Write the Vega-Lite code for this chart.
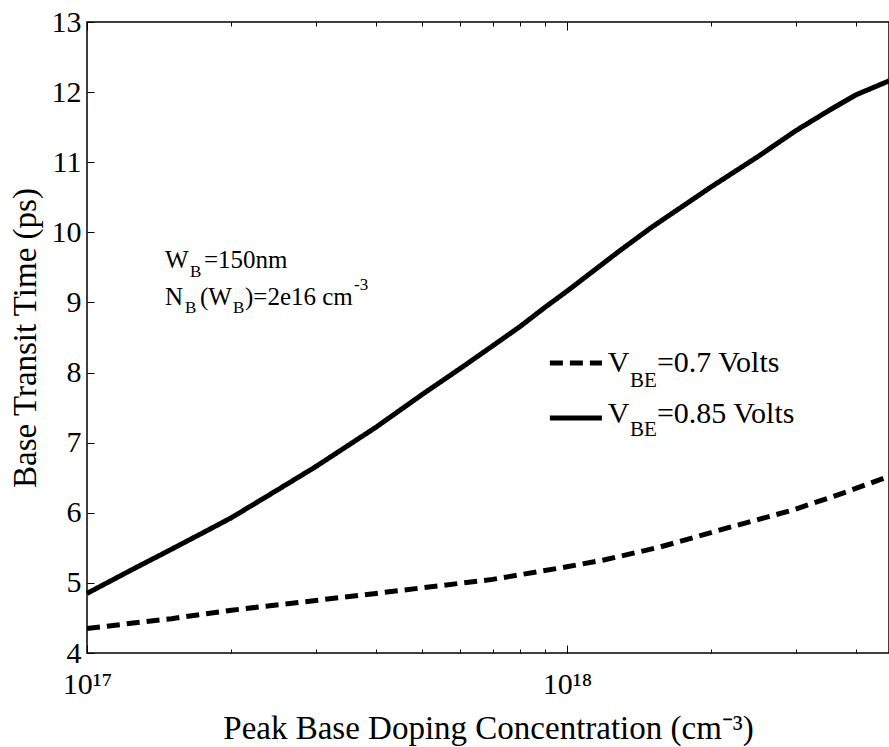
{
  "$schema": "https://vega.github.io/schema/vega-lite/v6.json",
  "width": 802,
  "height": 631,
  "autosize": {"type": "none"},
  "padding": {"left": 87, "top": 22, "right": 0, "bottom": 94},
  "background": "white",
  "config": {
    "view": {"stroke": "black", "strokeWidth": 1.5},
    "font": "Liberation Serif",
    "axis": {
      "domain": false,
      "grid": false,
      "tickColor": "black",
      "tickWidth": 1,
      "labelColor": "black",
      "titleColor": "black",
      "labelFont": "Liberation Serif",
      "titleFont": "Liberation Serif",
      "titleFontWeight": "normal",
      "labelFlush": false
    }
  },
  "datasets": {
    "curves": [
      {"conc": 1e17, "time": 4.85, "series": "0.85"},
      {"conc": 1.25e17, "time": 5.2, "series": "0.85"},
      {"conc": 1.5e17, "time": 5.48, "series": "0.85"},
      {"conc": 1.75e17, "time": 5.72, "series": "0.85"},
      {"conc": 2e17, "time": 5.93, "series": "0.85"},
      {"conc": 2.5e17, "time": 6.33, "series": "0.85"},
      {"conc": 3e17, "time": 6.66, "series": "0.85"},
      {"conc": 4e17, "time": 7.22, "series": "0.85"},
      {"conc": 5e17, "time": 7.69, "series": "0.85"},
      {"conc": 6e17, "time": 8.06, "series": "0.85"},
      {"conc": 7e17, "time": 8.38, "series": "0.85"},
      {"conc": 8e17, "time": 8.66, "series": "0.85"},
      {"conc": 9e17, "time": 8.93, "series": "0.85"},
      {"conc": 1e18, "time": 9.16, "series": "0.85"},
      {"conc": 1.29e18, "time": 9.74, "series": "0.85"},
      {"conc": 1.5e18, "time": 10.07, "series": "0.85"},
      {"conc": 2e18, "time": 10.65, "series": "0.85"},
      {"conc": 2.5e18, "time": 11.08, "series": "0.85"},
      {"conc": 3e18, "time": 11.45, "series": "0.85"},
      {"conc": 3.5e18, "time": 11.73, "series": "0.85"},
      {"conc": 4e18, "time": 11.96, "series": "0.85"},
      {"conc": 4.69e18, "time": 12.16, "series": "0.85"},
      {"conc": 1e17, "time": 4.35, "series": "0.7"},
      {"conc": 1.5e17, "time": 4.49, "series": "0.7"},
      {"conc": 2e17, "time": 4.61, "series": "0.7"},
      {"conc": 3e17, "time": 4.75, "series": "0.7"},
      {"conc": 4e17, "time": 4.85, "series": "0.7"},
      {"conc": 5e17, "time": 4.93, "series": "0.7"},
      {"conc": 7e17, "time": 5.05, "series": "0.7"},
      {"conc": 1e18, "time": 5.23, "series": "0.7"},
      {"conc": 1.2e18, "time": 5.33, "series": "0.7"},
      {"conc": 1.56e18, "time": 5.51, "series": "0.7"},
      {"conc": 2.15e18, "time": 5.78, "series": "0.7"},
      {"conc": 2.96e18, "time": 6.04, "series": "0.7"},
      {"conc": 3.76e18, "time": 6.28, "series": "0.7"},
      {"conc": 4.69e18, "time": 6.52, "series": "0.7"}
    ],
    "legendLines": [
      {"series": "0.7", "conc": 9.216e17, "time": 8.136},
      {"series": "0.7", "conc": 1.183e18, "time": 8.136},
      {"series": "0.85", "conc": 9.216e17, "time": 7.352},
      {"series": "0.85", "conc": 1.183e18, "time": 7.352}
    ],
    "notesMain": [
      {"conc": 1.454e17, "time": 9.487, "text": "W"},
      {"conc": 1.753e17, "time": 9.487, "text": "=150nm"},
      {"conc": 1.454e17, "time": 8.964, "text": "N"},
      {"conc": 1.72e17, "time": 8.964, "text": "(W"},
      {"conc": 2.134e17, "time": 8.964, "text": ")=2e16 cm"}
    ],
    "notesSub": [
      {"conc": 1.639e17, "time": 9.363, "text": "B"},
      {"conc": 1.601e17, "time": 8.85, "text": "B"},
      {"conc": 2.014e17, "time": 8.85, "text": "B"}
    ],
    "notesSup": [
      {"conc": 3.6e17, "time": 9.178, "text": "-3"}
    ],
    "legendMain": [
      {"conc": 1.217e18, "time": 8.008, "text": "V"},
      {"conc": 1.54e18, "time": 8.008, "text": "=0.7 Volts"},
      {"conc": 1.217e18, "time": 7.281, "text": "V"},
      {"conc": 1.54e18, "time": 7.281, "text": "=0.85 Volts"}
    ],
    "legendSub": [
      {"conc": 1.353e18, "time": 7.794, "text": "BE"},
      {"conc": 1.353e18, "time": 7.095, "text": "BE"}
    ]
  },
  "resolve": {"axis": {"x": "independent", "y": "independent"}},
  "layer": [
    {
      "data": {"name": "curves"},
      "mark": {"type": "line", "color": "black", "strokeWidth": 5, "strokeCap": "butt"},
      "encoding": {
        "x": {
          "field": "conc", "type": "quantitative",
          "scale": {"type": "log", "domain": [1e17, 4.69e18], "nice": false},
          "axis": {
            "orient": "bottom",
            "values": [1e17, 1e18],
            "labelExpr": "datum.value < 5e17 ? '10¹⁷' : '10¹⁸'",
            "ticks": false,
            "labelFlush": false,
            "labelPadding": 40,
            "labelBaseline": "alphabetic",
            "labelFontSize": 30,
            "title": "Peak Base Doping Concentration (cm⁻³)",
            "titleFontSize": 33,
            "titleY": 85,
            "titleBaseline": "alphabetic"
          }
        },
        "y": {
          "field": "time", "type": "quantitative",
          "scale": {"domain": [4, 13], "nice": false, "zero": false},
          "axis": {
            "orient": "left",
            "values": [4, 5, 6, 7, 8, 9, 10, 11, 12, 13],
            "ticks": false,
            "labelPadding": 6,
            "labelFontSize": 30,
            "title": "Base Transit Time (ps)",
            "titleFontSize": 33,
            "titleX": -52,
            "titleBaseline": "alphabetic"
          }
        },
        "strokeDash": {
          "field": "series", "type": "nominal",
          "scale": {"domain": ["0.7", "0.85"], "range": [[13, 7], [1, 0]]},
          "legend": null
        }
      }
    },
    {
      "data": {"name": "legendLines"},
      "mark": {"type": "line", "color": "black", "strokeWidth": 5, "strokeCap": "butt"},
      "encoding": {
        "x": {
          "field": "conc", "type": "quantitative",
          "scale": {"type": "log", "domain": [1e17, 4.69e18], "nice": false},
          "axis": {"orient": "top", "offset": -631, "values": [1e17, 1e18], "tickSize": 8, "labels": false, "title": null}
        },
        "y": {
          "field": "time", "type": "quantitative",
          "scale": {"domain": [4, 13], "nice": false, "zero": false},
          "axis": {"orient": "right", "offset": -802, "values": [4, 5, 6, 7, 8, 9, 10, 11, 12, 13], "tickSize": 7, "labels": false, "title": null}
        },
        "strokeDash": {"field": "series", "type": "nominal", "legend": null}
      }
    },
    {
      "data": {"name": "notesMain"},
      "mark": {"type": "text", "align": "left", "baseline": "alphabetic", "fontSize": 25, "font": "Liberation Serif", "color": "black"},
      "encoding": {
        "x": {
          "field": "conc", "type": "quantitative",
          "scale": {"type": "log", "domain": [1e17, 4.69e18], "nice": false},
          "axis": {"orient": "top", "offset": -631, "values": [2e17, 3e17, 4e17, 5e17, 6e17, 7e17, 8e17, 9e17, 2e18, 3e18, 4e18], "tickSize": 4, "labels": false, "title": null}
        },
        "y": {"field": "time", "type": "quantitative", "scale": {"domain": [4, 13], "nice": false, "zero": false}, "axis": null},
        "text": {"field": "text"}
      }
    },
    {
      "data": {"name": "notesSub"},
      "mark": {"type": "text", "align": "left", "baseline": "alphabetic", "fontSize": 17, "font": "Liberation Serif", "color": "black"},
      "encoding": {
        "x": {
          "field": "conc", "type": "quantitative",
          "scale": {"type": "log", "domain": [1e17, 4.69e18], "nice": false},
          "axis": {"orient": "bottom", "offset": -631, "values": [1e17, 1e18], "tickSize": 8, "labels": false, "title": null}
        },
        "y": {"field": "time", "type": "quantitative", "scale": {"domain": [4, 13], "nice": false, "zero": false}, "axis": null},
        "text": {"field": "text"}
      }
    },
    {
      "data": {"name": "notesSup"},
      "mark": {"type": "text", "align": "left", "baseline": "alphabetic", "fontSize": 17, "font": "Liberation Serif", "color": "black"},
      "encoding": {
        "x": {
          "field": "conc", "type": "quantitative",
          "scale": {"type": "log", "domain": [1e17, 4.69e18], "nice": false},
          "axis": {"orient": "bottom", "offset": -631, "values": [2e17, 3e17, 4e17, 5e17, 6e17, 7e17, 8e17, 9e17, 2e18, 3e18, 4e18], "tickSize": 4, "labels": false, "title": null}
        },
        "y": {"field": "time", "type": "quantitative", "scale": {"domain": [4, 13], "nice": false, "zero": false}, "axis": null},
        "text": {"field": "text"}
      }
    },
    {
      "data": {"name": "legendMain"},
      "mark": {"type": "text", "align": "left", "baseline": "alphabetic", "fontSize": 30, "font": "Liberation Serif", "color": "black"},
      "encoding": {
        "x": {"field": "conc", "type": "quantitative", "scale": {"type": "log", "domain": [1e17, 4.69e18], "nice": false}, "axis": null},
        "y": {"field": "time", "type": "quantitative", "scale": {"domain": [4, 13], "nice": false, "zero": false}, "axis": null},
        "text": {"field": "text"}
      }
    },
    {
      "data": {"name": "legendSub"},
      "mark": {"type": "text", "align": "left", "baseline": "alphabetic", "fontSize": 21, "font": "Liberation Serif", "color": "black"},
      "encoding": {
        "x": {"field": "conc", "type": "quantitative", "scale": {"type": "log", "domain": [1e17, 4.69e18], "nice": false}, "axis": null},
        "y": {"field": "time", "type": "quantitative", "scale": {"domain": [4, 13], "nice": false, "zero": false}, "axis": null},
        "text": {"field": "text"}
      }
    }
  ]
}
